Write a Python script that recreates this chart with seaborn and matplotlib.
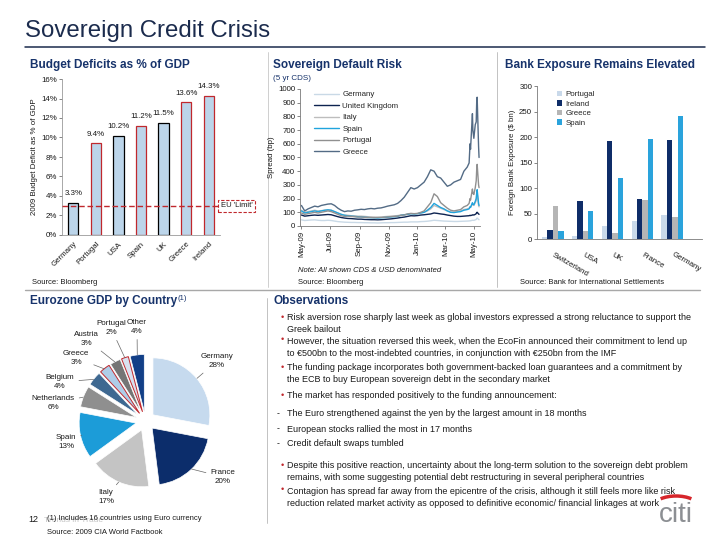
import matplotlib
matplotlib.use('Agg')
import numpy as np
import pandas as pd
import matplotlib.pyplot as plt
import matplotlib.dates as mdates
from matplotlib.patches import Arc, Patch
from matplotlib.lines import Line2D
import seaborn as sns

sns.set_theme(style='white')
plt.rcParams['font.family'] = ['Liberation Sans', 'DejaVu Sans']
plt.rcParams['axes.linewidth'] = 0.6

NAVY = '#17336b'
RED = '#c0282d'
TXT = '#1a1a1a'
GRAYLINE = '#a8a8a8'

# ---------------- data ----------------
# Budget deficits
deficit_countries = ['Germany', 'Portugal', 'USA', 'Spain', 'UK', 'Greece', 'Ireland']
deficit_values = [3.3, 9.4, 10.2, 11.2, 11.5, 13.6, 14.3]
deficit_edges = ['black', RED, 'black', RED, 'black', RED, RED]
deficit_yticks = [0, 2, 4, 6, 8, 10, 12, 14, 16]
eu_limit = 3.0

# Sovereign CDS (weekly, then daily around the May 2010 spike)
cds_weekly_dates = pd.date_range('2009-05-01', '2010-04-16', freq='7D')
cds_end_dates = pd.to_datetime(['2010-04-20', '2010-04-22', '2010-04-23', '2010-04-27',
                                '2010-04-28', '2010-04-30', '2010-05-03', '2010-05-05',
                                '2010-05-06', '2010-05-07', '2010-05-10', '2010-05-11'])
cds_germany = [45, 40, 42, 44, 45, 42, 40, 40, 42, 40, 36, 32, 30, 28, 27, 26, 26, 25, 25, 24,
               24, 23, 23, 22, 23, 24, 24, 25, 25, 26, 27, 28, 28, 30, 30, 30, 32, 33, 35, 38,
               42, 40, 38, 36, 35, 34, 33, 33, 34, 35, 36,
               37, 38, 38, 42, 42, 41, 45, 48, 55, 58, 48, 46]
cds_uk = [80, 72, 75, 78, 80, 78, 80, 82, 84, 82, 75, 68, 62, 58, 55, 54, 52, 50, 50, 48,
          47, 46, 46, 45, 46, 48, 50, 52, 55, 58, 62, 65, 70, 75, 74, 76, 80, 82, 85, 88,
          95, 92, 88, 85, 80, 76, 72, 70, 70, 72, 74,
          75, 78, 76, 80, 82, 80, 85, 90, 98, 100, 88, 85]
cds_italy = [115, 100, 105, 110, 115, 110, 112, 115, 118, 115, 105, 95, 85, 80, 78, 75, 74, 72, 72, 70,
             68, 66, 66, 64, 66, 68, 70, 72, 74, 76, 80, 82, 86, 90, 88, 90, 95, 100, 110, 125,
             150, 140, 130, 120, 110, 102, 100, 105, 110, 120, 125,
             130, 140, 138, 160, 155, 150, 170, 185, 220, 240, 150, 140]
cds_spain = [110, 95, 100, 105, 110, 105, 110, 115, 118, 115, 105, 95, 85, 78, 75, 72, 70, 68, 66, 64,
             62, 60, 60, 58, 60, 62, 64, 66, 68, 70, 78, 82, 85, 90, 88, 90, 95, 100, 115, 135,
             165, 150, 135, 125, 110, 100, 98, 102, 105, 115, 120,
             125, 140, 135, 170, 160, 155, 180, 200, 240, 265, 165, 150]
cds_portugal = [95, 85, 90, 95, 100, 95, 100, 105, 110, 105, 95, 85, 75, 70, 72, 70, 68, 65, 66, 64,
                62, 62, 60, 62, 62, 64, 66, 68, 70, 72, 78, 80, 88, 92, 90, 92, 100, 110, 140, 170,
                235, 215, 170, 150, 130, 115, 110, 115, 120, 140, 150,
                165, 200, 190, 270, 240, 230, 280, 330, 410, 450, 300, 280]
cds_greece = [150, 110, 125, 135, 145, 140, 150, 155, 160, 162, 150, 130, 115, 105, 110, 108, 115, 118, 122, 120,
              125, 128, 125, 130, 132, 138, 145, 150, 155, 165, 185, 210, 245, 280, 270, 280, 300, 320, 360, 410,
              400, 360, 350, 320, 290, 300, 320, 330, 340, 400, 430,
              460, 600, 560, 820, 700, 640, 740, 760, 900, 940, 580, 500]
cds_names = ['Germany', 'United Kingdom', 'Italy', 'Spain', 'Portugal', 'Greece']
cds_colors = ['#c9d9e6', '#0d2350', '#bdbdbd', '#20a4dd', '#909090', '#536b85']
cds_yticks = list(range(0, 1001, 100))

# Bank exposure ($ bn)
bank_countries = ['Switzerland', 'USA', 'UK', 'France', 'Germany']
bank_portugal = [3, 6, 25, 35, 47]
bank_ireland = [18, 74, 192, 78, 194]
bank_greece = [65, 16, 12, 77, 43]
bank_spain = [15, 54, 119, 196, 241]
bank_series = ['Portugal', 'Ireland', 'Greece', 'Spain']
bank_colors = ['#c9d9ea', '#0f2d68', '#b5b5b5', '#2aa3dc']
bank_yticks = [0, 50, 100, 150, 200, 250, 300]

# Eurozone GDP
gdp_countries = ['Germany', 'France', 'Italy', 'Spain', 'Netherlands', 'Belgium',
                 'Greece', 'Austria', 'Portugal', 'Other']
gdp_shares = [28, 20, 17, 13, 6, 4, 3, 3, 2, 4]
gdp_colors = ['#c6daee', '#0c2d6b', '#c4c4c4', '#1c9cd8', '#8f8f8f', '#3e6891',
              '#aecde8', '#757575', '#d8e1f0', '#123f87']
gdp_red_edge = ['Greece', 'Portugal']

# Observations
obs_items = [
    ('bullet', ['Risk aversion rose sharply last week as global investors expressed a strong reluctance to support the',
                'Greek bailout']),
    ('bullet', ['However, the situation reversed this week, when the EcoFin announced their commitment to lend up',
                'to €500bn to the most-indebted countries, in conjunction with €250bn from the IMF']),
    ('bullet', ['The funding package incorporates both government-backed loan guarantees and a commitment by',
                'the ECB to buy European sovereign debt in the secondary market']),
    ('bullet', ['The market has responded positively to the funding announcement:']),
    ('dash', ['The Euro strengthened against the yen by the largest amount in 18 months']),
    ('dash', ['European stocks rallied the most in 17 months']),
    ('dash', ['Credit default swaps tumbled']),
    ('bullet', ['Despite this positive reaction, uncertainty about the long-term solution to the sovereign debt problem',
                'remains, with some suggesting potential debt restructuring in several peripheral countries']),
    ('bullet', ['Contagion has spread far away from the epicentre of the crisis, although it still feels more like risk',
                'reduction related market activity as opposed to definitive economic/ financial linkages at work']),
]
obs_y = [318, 341, 368, 396, 414, 429, 444, 466, 491]

# ---------------- layout helpers ----------------
W, H = 720, 540


def rect(x0, y0, x1, y1):
    return [x0 / W, 1 - y1 / H, (x1 - x0) / W, (y1 - y0) / H]


fig = plt.figure(figsize=(7.2, 5.4), dpi=100)
fig.patch.set_facecolor('white')
bg = fig.add_axes([0, 0, 1, 1], zorder=-1)
bg.set_xlim(0, W)
bg.set_ylim(H, 0)
bg.axis('off')

# page title and separators
bg.text(25, 31, 'Sovereign Credit Crisis', fontsize=17.3, color='#1b2b4d', va='center', ha='left')
bg.plot([25, 705], [47, 47], color='#1b2b4d', lw=1.1)
bg.plot([268, 268], [52, 287], color='#c8c8c8', lw=0.6)
bg.plot([497, 497], [52, 287], color='#b8b8b8', lw=0.6)
bg.plot([25, 700], [290, 290], color=GRAYLINE, lw=1.0)
bg.plot([267, 267], [298, 523], color='#b8b8b8', lw=0.6)

title_kw = dict(fontsize=8.5, weight='bold', color=NAVY, va='center', ha='left')
bg.text(30, 65, 'Budget Deficits as % of GDP', **title_kw)
bg.text(273, 65, 'Sovereign Default Risk', **title_kw)
bg.text(273, 78, '(5 yr CDS)', fontsize=5.8, color=NAVY, va='center')
bg.text(505, 65, 'Bank Exposure Remains Elevated', **title_kw)
t_gdp = bg.text(30, 301, 'Eurozone GDP by Country', **title_kw)
bg.annotate('(1)', xy=(1.0, 1.0), xycoords=t_gdp, fontsize=5.5, color=NAVY, ha='left', va='top')
bg.text(273, 301, 'Observations', **title_kw)

small = dict(fontsize=5.5, color=TXT, va='center', ha='left')
bg.text(32, 283, 'Source: Bloomberg', **small)
bg.text(298, 270, 'Note: All shown CDS & USD denominated', style='italic', **small)
bg.text(298, 283, 'Source: Bloomberg', **small)
bg.text(520, 283, 'Source: Bank for International Settlements', **small)

# ---------------- Panel 1: budget deficits ----------------
ax1 = fig.add_axes(rect(62, 79, 220, 235))
ax1.set_facecolor('none')
sns.barplot(x=deficit_countries, y=deficit_values, color='#bcd5ea', width=0.45,
            saturation=1, ax=ax1)
for p, ec in zip(ax1.patches, deficit_edges):
    p.set_edgecolor(ec)
    p.set_linewidth(0.9)
for i, v in enumerate(deficit_values):
    ax1.annotate(f'{v:.1f}%', (i, v), xytext=(0, 6.5), textcoords='offset points',
                 ha='center', va='center', fontsize=5.7, color=TXT)
ax1.set_xlim(-0.5, len(deficit_countries) - 0.5)
ax1.set_ylim(0, 16)
ax1.set_yticks(deficit_yticks)
ax1.set_yticklabels([f'{v}%' for v in deficit_yticks])
ax1.tick_params(axis='y', labelsize=5.7, left=True, length=2, width=0.5, color='#555555', pad=1.5,
                labelcolor=TXT)
ax1.tick_params(axis='x', labelsize=5.7, length=0, pad=4, labelcolor=TXT)
plt.setp(ax1.get_xticklabels(), rotation=45, ha='right', rotation_mode='anchor')
ax1.set_ylabel('2009 Budget Deficit as % of GDP', fontsize=5.7, labelpad=2, color=TXT)
ax1.set_xlabel('')
for s in ['top', 'right']:
    ax1.spines[s].set_visible(False)
ax1.spines['left'].set_color('#9a9a9a')
ax1.spines['bottom'].set_color('#9a9a9a')
ax1.axhline(eu_limit, color=RED, ls=(0, (4, 2)), lw=1.0, xmin=0, xmax=1.0, clip_on=False, zorder=3)
ax1.text(1.006, eu_limit, "EU 'Limit'", transform=ax1.get_yaxis_transform(), fontsize=5.5,
         ha='left', va='center', color=TXT,
         bbox=dict(boxstyle='square,pad=0.35', fc='white', ec=RED, ls=(0, (3, 1.5)), lw=0.8))

# ---------------- Panel 2: CDS ----------------
ax2 = fig.add_axes(rect(300, 89, 480, 226))
ax2.set_facecolor('none')
cds_dates = cds_weekly_dates.append(cds_end_dates)
cds_series = [cds_germany, cds_uk, cds_italy, cds_spain, cds_portugal, cds_greece]
df_cds = pd.concat([pd.DataFrame({'date': cds_dates, 'spread': vals, 'country': name})
                    for name, vals in zip(cds_names, cds_series)], ignore_index=True)
sns.lineplot(data=df_cds, x='date', y='spread', hue='country', hue_order=cds_names,
             palette=dict(zip(cds_names, cds_colors)), linewidth=1.0, legend=False, ax=ax2)
ax2.set_xlim(pd.Timestamp('2009-04-28'), pd.Timestamp('2010-05-13'))
ax2.set_ylim(0, 1000)
ax2.set_yticks(cds_yticks)
ax2.xaxis.set_major_locator(mdates.MonthLocator(bymonth=[1, 3, 5, 7, 9, 11]))
ax2.xaxis.set_major_formatter(mdates.DateFormatter('%b-%y'))
ax2.tick_params(axis='y', labelsize=5.7, left=True, length=2, width=0.5, color='#555555', pad=1.5,
                labelcolor=TXT)
ax2.tick_params(axis='x', labelsize=5.7, bottom=True, length=2, width=0.5, color='#555555', pad=1.5,
                labelcolor=TXT)
plt.setp(ax2.get_xticklabels(), rotation=90, ha='center')
ax2.set_ylabel('Spread (bp)', fontsize=5.7, labelpad=2, color=TXT)
ax2.set_xlabel('')
for s in ['top', 'right']:
    ax2.spines[s].set_visible(False)
ax2.spines['left'].set_color('#7a7a7a')
ax2.spines['bottom'].set_color('#7a7a7a')
handles = [Line2D([0], [0], color=c, lw=1.0) for c in cds_colors]
ax2.legend(handles, cds_names, loc='upper left', bbox_to_anchor=(0.06, 1.01), frameon=False,
           fontsize=5.7, handlelength=3.2, labelspacing=0.5, handletextpad=0.4, borderaxespad=0)

# ---------------- Panel 3: bank exposure ----------------
ax3 = fig.add_axes(rect(537, 86, 702, 239))
ax3.set_facecolor('none')
bank_values = [bank_portugal, bank_ireland, bank_greece, bank_spain]
df_bank = pd.concat([pd.DataFrame({'country': bank_countries, 'exposure': vals, 'series': name})
                     for name, vals in zip(bank_series, bank_values)], ignore_index=True)
sns.barplot(data=df_bank, x='country', y='exposure', hue='series', hue_order=bank_series,
            palette=dict(zip(bank_series, bank_colors)), width=0.72, saturation=1,
            legend=False, ax=ax3)
for p in ax3.patches:
    p.set_linewidth(0)
ax3.set_xlim(-0.53, 5.0)
ax3.set_ylim(0, 300)
ax3.set_yticks(bank_yticks)
ax3.tick_params(axis='y', labelsize=5.7, left=True, length=2, width=0.5, color='#555555', pad=1.5,
                labelcolor=TXT)
ax3.tick_params(axis='x', labelsize=5.7, length=0, pad=11, labelcolor=TXT)
plt.setp(ax3.get_xticklabels(), rotation=-30, ha='left', va='center', rotation_mode='anchor')
ax3.set_ylabel('Foreign Bank Exposure ($ bn)', fontsize=5.7, labelpad=2, color=TXT)
ax3.set_xlabel('')
for s in ['top', 'right']:
    ax3.spines[s].set_visible(False)
ax3.spines['left'].set_color('#7a7a7a')
ax3.spines['bottom'].set_color('#7a7a7a')
bh = [Patch(facecolor=c, edgecolor='none') for c in bank_colors]
ax3.legend(bh, bank_series, loc='upper left', bbox_to_anchor=(0.1, 0.99), frameon=False,
           fontsize=5.7, handlelength=0.7, handleheight=0.7, labelspacing=0.25,
           handletextpad=0.4, borderaxespad=0)

# ---------------- Panel 4: Eurozone GDP pie ----------------
ax4 = fig.add_axes(rect(71.5, 347, 219.5, 495))
wedges, _ = ax4.pie(gdp_shares, colors=gdp_colors, startangle=90, counterclock=False,
                    explode=[0.17] * len(gdp_shares),
                    wedgeprops=dict(edgecolor='white', linewidth=0.5))
for w, name in zip(wedges, gdp_countries):
    if name in gdp_red_edge:
        w.set_edgecolor(RED)
        w.set_linewidth(0.7)
ax4.set_xlim(-1.3, 1.3)
ax4.set_ylim(-1.3, 1.3)
ax4.set_aspect('equal')
ax4.axis('off')

pie_label_pos = {'Germany': (217, 361), 'France': (223, 477), 'Italy': (106, 497),
                 'Spain': (66, 442), 'Netherlands': (53, 403), 'Belgium': (60, 382),
                 'Greece': (76, 358), 'Austria': (86, 339), 'Portugal': (111, 328),
                 'Other': (137, 327)}
for w, name, share in zip(wedges, gdp_countries, gdp_shares):
    ang = np.deg2rad((w.theta1 + w.theta2) / 2)
    cx, cy = w.center
    pt = (cx + 0.98 * w.r * np.cos(ang), cy + 0.98 * w.r * np.sin(ang))
    ax4.annotate(f'{name}\n{share}%', xy=pt, xytext=pie_label_pos[name], textcoords=bg.transData,
                 ha='center', va='center', fontsize=5.8, color=TXT, linespacing=1.35,
                 arrowprops=dict(arrowstyle='-', color='#666666', lw=0.5, shrinkA=1, shrinkB=1))

# footnotes
bg.text(28, 520, '12', fontsize=6.5, color=TXT, va='center')
bg.text(44, 521, 'Trends in Trade', fontsize=6, color='#c4c4c4', va='center')
bg.text(47, 519, '(1) Includes 16 countries using Euro currency', **small)
bg.text(47, 532, 'Source: 2009 CIA World Factbook', **small)

# ---------------- Panel 5: observations ----------------
for (kind, lines), y0 in zip(obs_items, obs_y):
    if kind == 'bullet':
        bg.text(281, y0 - 1, '•', fontsize=6.5, color=RED, va='center', ha='left')
    else:
        bg.text(277, y0, '-', fontsize=6.3, color=TXT, va='center', ha='left')
    for k, line in enumerate(lines):
        bg.text(287, y0 + 12 * k, line, fontsize=6.45, color=TXT, va='center', ha='left')

# citi logo
bg.add_patch(Arc((676, 506), 44, 20, theta1=205, theta2=335, color='#d6262b', lw=2.5))
bg.text(676, 515, 'citi', fontsize=20, color='#8c8f93', ha='center', va='center')

fig.savefig('out.png', dpi=100, facecolor='white')
